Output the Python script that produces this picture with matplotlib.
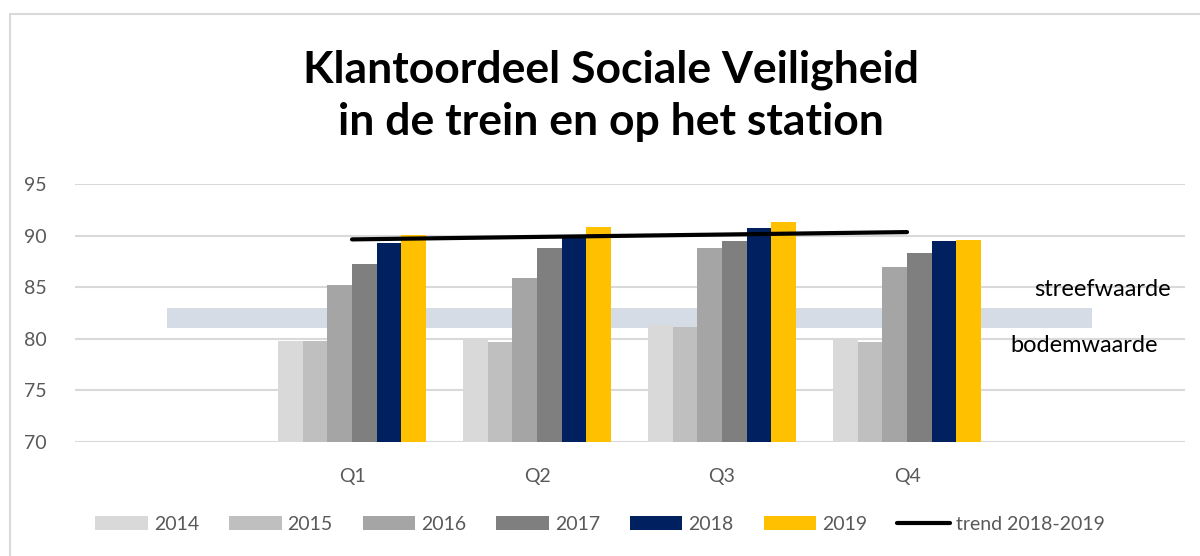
import matplotlib.pyplot as plt
from matplotlib.patches import Rectangle

plt.rcParams['font.family'] = ['Lato', 'DejaVu Sans']

quarters = ['', 'Q1', 'Q2', 'Q3', 'Q4', '']
years = ['2014', '2015', '2016', '2017', '2018', '2019']
scores = {
    '2014': [79.8, 80.0, 81.3, 80.0],
    '2015': [79.8, 79.7, 81.1, 79.7],
    '2016': [85.2, 85.9, 88.8, 87.0],
    '2017': [87.3, 88.8, 89.5, 88.3],
    '2018': [89.3, 90.1, 90.8, 89.5],
    '2019': [90.1, 90.9, 91.3, 89.6],
}
trend = [89.65, 89.89, 90.12, 90.36]
bodemwaarde = 81
streefwaarde = 83

colors = ['#d9d9d9', '#bfbfbf', '#a5a5a5', '#7f7f7f', '#002060', '#ffc000']

fig = plt.figure(figsize=(12, 5.56), dpi=100)
ax = fig.add_axes([0.0621, 0.2056, 0.9250, 0.4629])

qpos = list(range(1, 5))
width = 0.8 / len(years)

# band between bodemwaarde and streefwaarde, from first to last category
ax.fill_between([0, len(quarters) - 1], bodemwaarde, streefwaarde,
                color='#d6dce5', lw=0, zorder=1)

handles = []
for i, y in enumerate(years):
    xs = [q - 0.4 + width * (i + 0.5) for q in qpos]
    b = ax.bar(xs, [v - 70 for v in scores[y]], width, bottom=70,
               color=colors[i], label=y, zorder=2)
    handles.append(b)

line, = ax.plot(qpos, trend, color='black', lw=3, solid_capstyle='round',
                label='trend 2018-2019', zorder=3)
handles.append(line)

ax.text(4.69, 84.8, 'streefwaarde', fontsize=17, va='center', ha='left')
ax.text(4.557, 79.3, 'bodemwaarde', fontsize=17, va='center', ha='left')

ax.set_xlim(-0.5, 5.5)
ax.set_ylim(70, 95)
ax.set_yticks(range(70, 96, 5))
ax.set_xticks(range(len(quarters)))
ax.set_xticklabels(quarters)
ax.tick_params(length=0, labelsize=14, labelcolor='#595959')
ax.tick_params(axis='y', pad=20)
ax.tick_params(axis='x', pad=19)
ax.grid(axis='y', color='#d9d9d9', lw=1.5, zorder=0)
ax.set_axisbelow(True)
for s in ax.spines.values():
    s.set_visible(False)

fig.text(0.509, 0.828, 'Klantoordeel Sociale Veiligheid\nin de trein en op het station',
         ha='center', va='center', fontsize=32, fontweight='bold',
         linespacing=1.35)

leg = fig.legend(handles=handles, loc='center', bbox_to_anchor=(0.5, 0.057),
                 ncol=7, frameon=False, fontsize=14, handlelength=2.7,
                 handleheight=0.75, handletextpad=0.3, columnspacing=1.55)
for t in leg.get_texts():
    t.set_color('#595959')

fig.patches.append(Rectangle((10 / 1200, -0.1), 1.2, 1.1 - 14 / 556,
                             transform=fig.transFigure, fill=False,
                             edgecolor='#d9d9d9', lw=1.5))

fig.savefig('out.png', dpi=100)
